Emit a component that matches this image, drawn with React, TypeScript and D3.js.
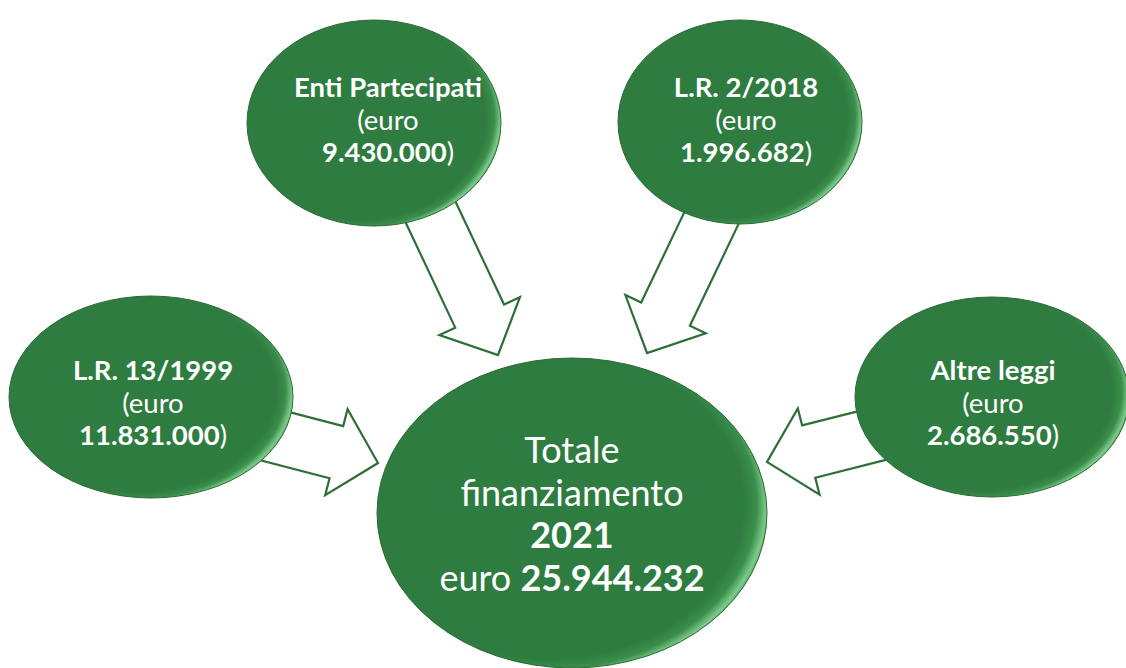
import React from "react";
import * as d3 from "d3";

// ---- data ----
const sourceNames = ["Enti Partecipati", "L.R. 2/2018", "L.R. 13/1999", "Altre leggi"];
const sourceAmounts = ["9.430.000", "1.996.682", "11.831.000", "2.686.550"];
const currencyLabel = "euro";
const totalTitle = ["Totale", "finanziamento"];
const totalYear = "2021";
const totalAmount = "25.944.232";

// ---- layout ----
const W = 1126;
const H = 668;
const nodeLayout = [
  { cx: 374, cy: 123, rx: 127, ry: 103, tx: 388, ty: 97 },
  { cx: 740, cy: 122, rx: 122, ry: 102, tx: 746, ty: 97 },
  { cx: 151, cy: 397, rx: 142, ry: 101, tx: 153, ty: 380 },
  { cx: 992, cy: 397, rx: 137, ry: 100, tx: 993, ty: 380 },
];
const centerLayout = { cx: 572, cy: 513, rx: 195, ry: 155, tx: 572, ty: 463 };
const arrowLayout = [
  { base: [423, 196], tip: [498, 355] },
  { base: [722, 196], tip: [647, 353] },
  { base: [255, 431], tip: [378, 463] },
  { base: [890, 431], tip: [767, 462] },
];
const SHAFT_W = 54;
const HEAD_W = 89;
const HEAD_L = 43;

const FONT = "Lato, 'Open Sans', sans-serif";
const GREEN = "#2e7c3f";
const ARROW_STROKE = "#2f6e37";

function arrowPoints(b: number[], t: number[]): [number, number][] {
  const dx = t[0] - b[0];
  const dy = t[1] - b[1];
  const len = Math.hypot(dx, dy);
  const ux = dx / len, uy = dy / len;
  const nx = -uy, ny = ux;
  const hx = t[0] - ux * HEAD_L, hy = t[1] - uy * HEAD_L;
  const s = SHAFT_W / 2, h = HEAD_W / 2;
  return [
    [b[0] + nx * s, b[1] + ny * s],
    [hx + nx * s, hy + ny * s],
    [hx + nx * h, hy + ny * h],
    [t[0], t[1]],
    [hx - nx * h, hy - ny * h],
    [hx - nx * s, hy - ny * s],
    [b[0] - nx * s, b[1] - ny * s],
  ];
}

const line = d3.line().curve(d3.curveLinearClosed);

export default function App() {
  const smallSize = 27.5;
  const smallLH = 32.5;
  const bigSize = 36;
  const bigLH = 42.5;
  return (
    <svg
      width={W}
      height={H}
      viewBox={`0 0 ${W} ${H}`}
      style={{ position: "absolute", left: 0, top: 0, background: "#fff" }}
    >
      <defs>
        <radialGradient id="bevel" cx="0.44" cy="0.47" r="0.58" fx="0.44" fy="0.47">
          <stop offset="0" stopColor={GREEN} />
          <stop offset="0.86" stopColor={GREEN} />
          <stop offset="0.92" stopColor="#3a8e4b" />
          <stop offset="0.962" stopColor="#7cca89" />
          <stop offset="1" stopColor="#3f8c4c" />
        </radialGradient>
      </defs>
      <rect width={W} height={H} fill="#fff" />
      {arrowLayout.map((a, i) => (
        <path
          key={"a" + i}
          d={line(arrowPoints(a.base, a.tip)) || ""}
          fill="#fff"
          stroke={ARROW_STROKE}
          strokeWidth={2.2}
          strokeLinejoin="miter"
        />
      ))}
      {sourceNames.map((name, i) => {
        const n = nodeLayout[i];
        return (
          <g key={"n" + i}>
            <ellipse cx={n.cx} cy={n.cy} rx={n.rx} ry={n.ry} fill="url(#bevel)" stroke="#2b6a36" strokeWidth={1} />
            <text
              x={n.tx}
              y={n.ty}
              textAnchor="middle"
              fill="#fff"
              fontFamily={FONT}
              fontSize={smallSize}
            >
              <tspan x={n.tx} fontWeight="bold">{name}</tspan>
              <tspan x={n.tx} dy={smallLH}>({currencyLabel}</tspan>
              <tspan x={n.tx} dy={smallLH} fontWeight="bold">{sourceAmounts[i]}</tspan>
              <tspan>)</tspan>
            </text>
          </g>
        );
      })}
      <ellipse
        cx={centerLayout.cx}
        cy={centerLayout.cy}
        rx={centerLayout.rx}
        ry={centerLayout.ry}
        fill="url(#bevel)"
        stroke="#2b6a36"
        strokeWidth={1}
      />
      <text
        x={centerLayout.tx}
        y={centerLayout.ty}
        textAnchor="middle"
        fill="#fff"
        fontFamily={FONT}
        fontSize={bigSize}
      >
        <tspan x={centerLayout.tx}>{totalTitle[0]}</tspan>
        <tspan x={centerLayout.tx} dy={bigLH}>{totalTitle[1]}</tspan>
        <tspan x={centerLayout.tx} dy={bigLH} fontWeight="bold">{totalYear}</tspan>
        <tspan x={centerLayout.tx} dy={bigLH}>{currencyLabel} </tspan>
        <tspan fontWeight="bold">{totalAmount}</tspan>
      </text>
    </svg>
  );
}
